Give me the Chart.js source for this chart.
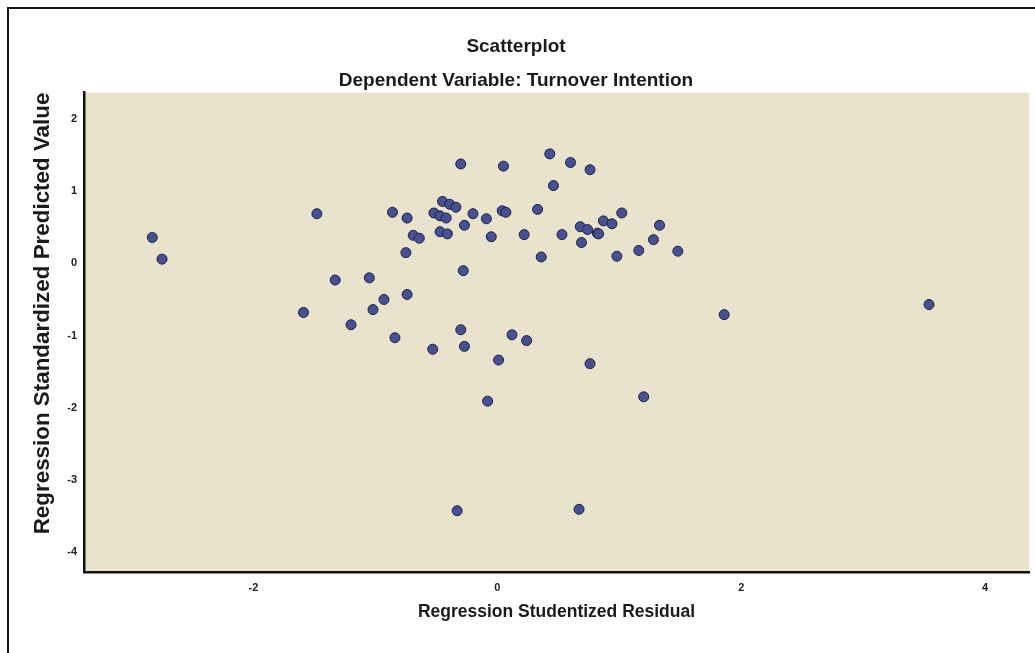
<!DOCTYPE html>
<html lang="en">
<head>
    <meta charset="UTF-8">
    <meta name="viewport" content="width=device-width, initial-scale=1.0">
    <title>Scatterplot</title>
    <style>
        body{
            margin: 0;
            background: #fff;
            overflow: hidden;
        }
        .frame{
            position: absolute;
            left: 7px;
            top: 7px;
            width: 1050px;
            height: 670px;
            border: 2px solid #111;
            box-sizing: border-box;
        }
        .chart{
            position: absolute;
            left: 0;
            top: 0;
            width: 1035px;
            height: 653px;
        }
    </style>
</head>
<body>
    <div class="frame"></div>
    <div class="chart">
        <canvas id="scatter" width="1035" height="653"></canvas>
    </div>
    <script src="https://cdn.jsdelivr.net/npm/chart.js@4/dist/chart.umd.min.js"></script>
    <script>
// regression studentized residual (x) and standardized predicted value (y)
const residuals = [-2.83, -2.75, -1.48, -1.59, -1.33, -1.20, -1.05, -1.02, -0.93, -0.86,
    -0.84, -0.74, -0.74, -0.75, -0.69, -0.64, -0.53, -0.52, -0.47, -0.45,
    -0.42, -0.39, -0.34, -0.47, -0.41, -0.30, -0.30, -0.27, -0.28, -0.27,
    -0.33, -0.20, -0.09, -0.08, -0.05, 0.01, 0.05, 0.04, 0.07, 0.12,
    0.22, 0.24, 0.33, 0.36, 0.43, 0.46, 0.53, 0.60, 0.68, 0.69,
    0.67, 0.74, 0.76, 0.76, 0.82, 0.83, 0.87, 0.94, 0.98, 1.02,
    1.16, 1.20, 1.28, 1.33, 1.48, 1.86, 3.54];
const predicted = [0.36, 0.06, 0.69, -0.68, -0.23, -0.85, -0.20, -0.64, -0.50, 0.71,
    -1.03, 0.63, -0.43, 0.15, 0.39, 0.35, -1.19, 0.70, 0.66, 0.86,
    0.63, 0.82, 0.78, 0.44, 0.41, 1.38, -0.92, 0.53, -0.10, -1.15,
    -3.43, 0.69, 0.62, -1.91, 0.37, -1.34, 1.35, 0.73, 0.71, -0.99,
    0.40, -1.07, 0.75, 0.09, 1.52, 1.08, 0.40, 1.40, 0.51, 0.29,
    -3.41, 0.47, 1.30, -1.39, 0.42, 0.41, 0.59, 0.55, 0.10, 0.70,
    0.18, -1.85, 0.33, 0.53, 0.17, -0.71, -0.57];

const xTicks = [-2, 0, 2, 4];
const yTicks = [2, 1, 0, -1, -2, -3, -4];

const points = residuals.map((x, i) => ({x: x, y: predicted[i]}));

const fontFamily = "'Liberation Sans', Arial, sans-serif";

// tan fill behind the plot area
const plotBackground = {
    id: "plotBackground",
    beforeDraw(chart) {
        const {ctx, chartArea} = chart;
        ctx.save();
        ctx.fillStyle = "#e9e3ce";
        ctx.fillRect(chartArea.left, chartArea.top, chartArea.right - chartArea.left, chartArea.bottom - chartArea.top);
        ctx.restore();
    }
};

const ctx = document.getElementById("scatter").getContext("2d");

new Chart(ctx, {
    type: "scatter",
    data: {
        datasets: [{
            data: points,
            backgroundColor: "#47518f",
            borderColor: "#1c2048",
            borderWidth: 1,
            pointRadius: 5,
        }]
    },
    options: {
        responsive: false,
        animation: false,
        layout: {
            padding: {left: 0, right: 3, top: 0, bottom: 0}
        },
        plugins: {
            legend: {display: false},
            tooltip: {enabled: false},
            title: {
                display: true,
                text: "Scatterplot",
                color: "#1a1a1a",
                font: {family: fontFamily, size: 19, weight: "bold"},
                padding: {top: 35, bottom: 12}
            },
            subtitle: {
                display: true,
                text: "Dependent Variable: Turnover Intention",
                color: "#1a1a1a",
                font: {family: fontFamily, size: 19, weight: "bold"},
                padding: {top: 0, bottom: 0}
            }
        },
        scales: {
            x: {
                type: "linear",
                min: -3.39,
                max: 4.36,
                afterBuildTicks: (scale) => {
                    scale.ticks = xTicks.map(v => ({value: v}));
                },
                afterFit: (scale) => {
                    scale.height = 81;
                },
                grid: {color: "transparent", drawTicks: false},
                border: {display: true, color: "#111", width: 2.5},
                ticks: {
                    color: "#222",
                    padding: 9,
                    font: {family: fontFamily, size: 11, weight: "bold"}
                },
                title: {
                    display: true,
                    text: "Regression Studentized Residual",
                    color: "#1a1a1a",
                    font: {family: fontFamily, size: 17.5, weight: "bold"},
                    padding: {top: 0, bottom: 30}
                }
            },
            y: {
                type: "linear",
                min: -4.28,
                max: 2.37,
                afterBuildTicks: (scale) => {
                    scale.ticks = yTicks.map(v => ({value: v}));
                },
                afterFit: (scale) => {
                    scale.width = 84;
                },
                grid: {color: "transparent", drawTicks: false},
                border: {display: true, color: "#111", width: 2.5},
                ticks: {
                    color: "#222",
                    padding: 7,
                    font: {family: fontFamily, size: 11, weight: "bold"}
                },
                title: {
                    display: true,
                    text: "Regression Standardized Predicted Value",
                    align: "end",
                    color: "#1a1a1a",
                    font: {family: fontFamily, size: 22.4, weight: "bold"},
                    padding: {top: 29, bottom: 0}
                }
            }
        }
    },
    plugins: [plotBackground]
});
    </script>
</body>
</html>
